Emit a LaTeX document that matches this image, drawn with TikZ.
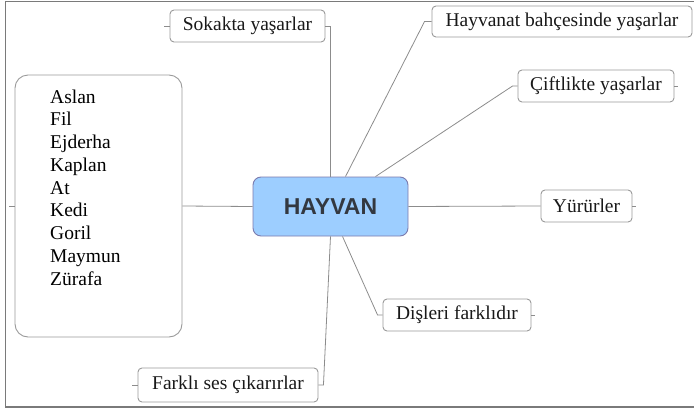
\documentclass[tikz,border=0pt]{standalone}
\usepackage{fontspec}
\setmainfont{Liberation Serif}
\newfontfamily\hsans{Liberation Sans}
\definecolor{boxgray}{HTML}{9A9A9A}
\definecolor{linegray}{HTML}{8C8C8C}
\definecolor{framegray}{HTML}{7A7A7A}
\definecolor{hfill}{HTML}{9DCEFF}
\definecolor{htext}{HTML}{333840}
\begin{document}
\begin{tikzpicture}[x=1pt,y=-1pt,
  leaf/.style={draw=boxgray,line width=0.9pt,rounded corners=4pt,fill=white,
    font=\rmfamily\fontsize{19.5}{22}\selectfont,inner sep=0pt,minimum height=32pt,text=black!90},
  conn/.style={draw=linegray,line width=0.8pt},
  stub/.style={draw=linegray,line width=0.8pt}]
\useasboundingbox (0,0) rectangle (694,410);
% frame
\draw[framegray,line width=1.3pt] (700,1.5) -- (5.5,1.5) -- (5.5,407) -- (700,407);
% nodes
\node[draw=boxgray,line width=0.9pt,rounded corners=13pt,minimum width=167pt,minimum height=262pt,inner sep=0pt] (list) at (98.5,206) {};
\node[anchor=base west,align=left,font=\rmfamily\fontsize{19.5}{22.75}\selectfont,inner sep=0pt,text=black] (listtext) at (50,285)
  {Aslan\\Fil\\Ejderha\\Kaplan\\At\\Kedi\\Goril\\Maymun\\Zürafa};
\node[draw=boxgray!80!blue,line width=0.9pt,rounded corners=8pt,fill=hfill,minimum width=155pt,minimum height=59pt,inner sep=0pt,
  font=\hsans\bfseries\fontsize{23}{26}\selectfont,text=htext] (hayvan) at (330.5,206.5) {HAYVAN};
\node[leaf,minimum width=155pt] (sok) at (247.5,26) {Sokakta yaşarlar};
\node[leaf,minimum width=260pt,minimum height=31pt] (hb) at (562,21.5) {Hayvanat bahçesinde yaşarlar};
\node[leaf,minimum width=156pt] (cif) at (596,86) {Çiftlikte yaşarlar};
\node[leaf,minimum width=91pt] (yur) at (586.5,206) {Yürürler};
\node[leaf,minimum width=148pt] (dis) at (457,315) {Dişleri farklıdır};
\node[leaf,minimum width=180pt,minimum height=34pt] (fark) at (228,385) {Farklı ses çıkarırlar};
% connectors
\draw[conn] (sok.east) -| (hayvan.north);
\draw[conn] (hb.west) -- ++(-7,0) -- ([xshift=15pt]hayvan.north);
\draw[conn] (cif.west) -- ++(-5,0) -- ([xshift=45pt]hayvan.north);
\draw[conn] (hayvan.east) -- (yur.west);
\draw[conn] (dis.west) -- ++(-5,0) -- ([xshift=12pt]hayvan.south);
\draw[conn] (fark.east) -- ++(5,0) -- (hayvan.south);
\draw[conn] (list.east) -- (hayvan.west);
% stubs
\draw[stub] (sok.west) -- ++(-6,0);
\draw[stub] (cif.east) -- ++(4,0);
\draw[stub] (yur.east) -- ++(4,0);
\draw[stub] (dis.east) -- ++(4,0);
\draw[stub] (fark.west) -- ++(-6,0);
\draw[stub] (list.west) -- ++(-6,0);
\end{tikzpicture}
\end{document}
